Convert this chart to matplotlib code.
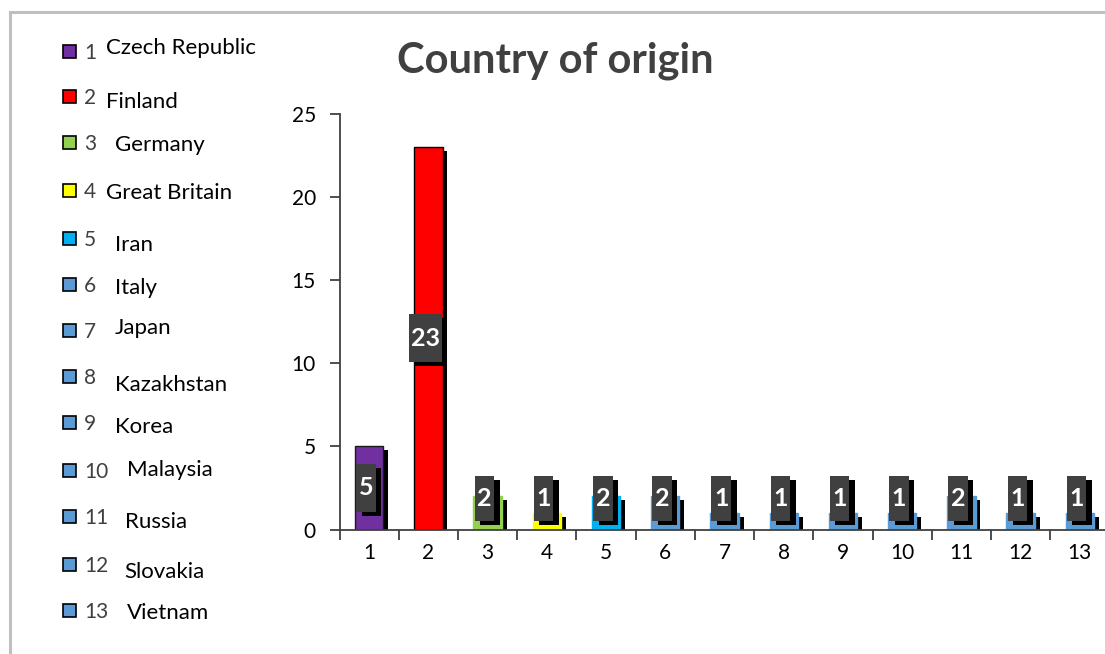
import matplotlib
matplotlib.use("Agg")
import matplotlib.pyplot as plt
import matplotlib.patheffects as pe
from matplotlib.patches import Rectangle

# data
categories = [str(i) for i in range(1, 14)]
countries = ["Czech Republic", "Finland", "Germany", "Great Britain", "Iran", "Italy",
             "Japan", "Kazakhstan", "Korea", "Malaysia", "Russia", "Slovakia", "Vietnam"]
counts = [5, 23, 2, 1, 2, 2, 1, 1, 1, 1, 2, 1, 1]
colors = ["#7030A0", "#FF0000", "#92D050", "#FFFF00", "#00B0F0"] + ["#5B9BD5"] * 8
yticks = [0, 5, 10, 15, 20, 25]

# legend layout (pixels from the top of the image)
leg_sq_y = [51, 96, 142, 190, 238, 284, 330, 376, 422, 470, 516, 564, 610]
leg_txt_y = [48, 102, 145, 193, 245, 288, 328, 385, 427, 470, 522, 572, 613]
leg_txt_x = [106, 106, 115, 106, 115, 115, 115, 115, 115, 127, 125, 124, 127]

plt.rcParams['font.family'] = ['Lato', 'DejaVu Sans']

W, H = 1105, 654
fig = plt.figure(figsize=(W / 100, H / 100), dpi=100)

# outer gray frame (cut off on the right and bottom)
fig.patches.append(Rectangle((9.5 / W, -0.05), 1.2, 1.05 - 11.5 / H,
                             transform=fig.transFigure, fill=False,
                             edgecolor="#BFBFBF", linewidth=2.2))

ax = fig.add_axes([339.5 / W, 124.5 / H, 770 / W, 416 / H])
x = list(range(1, 14))
shadow = [pe.SimplePatchShadow(offset=(3.5, -3), shadow_rgbFace="black", alpha=1), pe.Normal()]

edges = ["#1a1a1a", "black"] + colors[2:]
bars = ax.bar(x, counts, width=0.48, color=colors, edgecolor=edges, linewidth=1.0, zorder=2)
for b in bars:
    b.set_path_effects(shadow)

# value labels in dark boxes
for xi, v in zip(x, counts):
    txt = str(v)
    bw = 0.56 if len(txt) > 1 else 0.33
    bh = 2.7 if v < 5 else 2.9
    cy = max(v / 2, 1.86)
    cx = xi - 0.055
    box = Rectangle((cx - bw / 2, cy - bh / 2), bw, bh, facecolor="#404040",
                    edgecolor="none", zorder=3)
    box.set_path_effects([pe.SimplePatchShadow(offset=(4, -3), shadow_rgbFace="black", alpha=1),
                          pe.Normal()])
    ax.add_patch(box)
    ax.text(cx, cy, txt, ha="center", va="center", color="white",
            fontsize=18, fontweight="bold", zorder=4)

ax.set_xlim(0.5, 13.5)
ax.set_ylim(0, 25)
ax.set_yticks(yticks)
ax.set_xticks(x)
ax.set_xticklabels(categories)
ax.set_xticks([i + 0.5 for i in range(0, 14)], minor=True)
ax.tick_params(axis="x", which="major", length=0, pad=10, labelsize=15)
ax.tick_params(axis="x", which="minor", length=7, width=1.3, direction="out", color="#404040")
ax.tick_params(axis="y", length=7, width=1.3, pad=10, labelsize=15, color="#404040")
for s in ["top", "right"]:
    ax.spines[s].set_visible(False)
for s in ["left", "bottom"]:
    ax.spines[s].set_color("#404040")
    ax.spines[s].set_linewidth(1.3)

fig.text(555.5 / W, 1 - 61 / H, "Country of origin", ha="center", va="center",
         fontsize=30, fontweight="bold", color="#404040")

# legend
for i in range(13):
    sy = 1 - leg_sq_y[i] / H
    fig.patches.append(Rectangle((63 / W, sy - 7 / H), 13 / W, 13 / H,
                                 transform=fig.transFigure, facecolor=colors[i],
                                 edgecolor="black", linewidth=1.2))
    fig.text(84 / W, sy - 2 / H, categories[i], ha="left", va="center",
             fontsize=15, color="#404040")
    fig.text(leg_txt_x[i] / W, 1 - leg_txt_y[i] / H, countries[i], ha="left", va="center",
             fontsize=16, color="black")

fig.savefig("out.png", dpi=100)
